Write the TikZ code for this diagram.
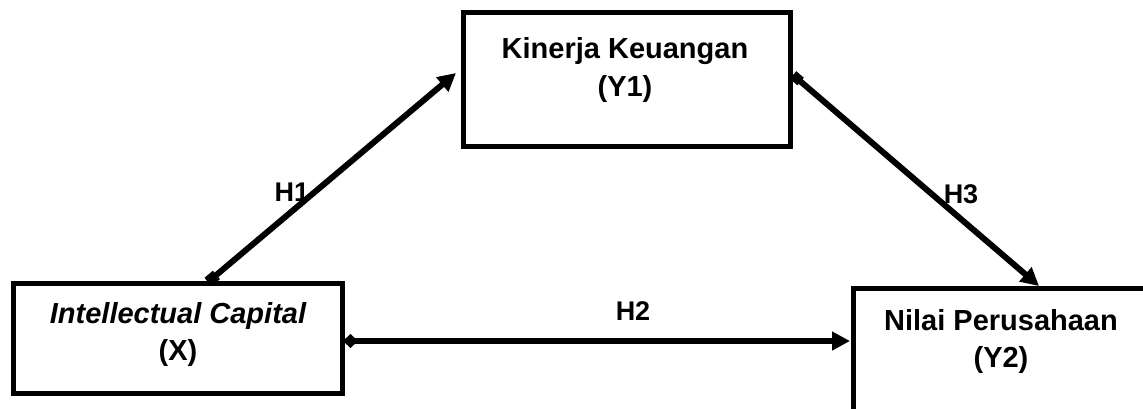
\documentclass[tikz,border=0pt]{standalone}
\usepackage{fontspec}
\setmainfont{Liberation Sans}
\usetikzlibrary{arrows.meta}
\begin{document}
\begin{tikzpicture}[x=1pt,y=-1pt,
  box/.style={draw,line width=5pt,rectangle,inner sep=0pt},
  txt/.style={anchor=base,inner sep=0pt,font=\fontsize{29}{38}\selectfont\bfseries},
  lab/.style={anchor=base,inner sep=0pt,font=\fontsize{27}{30}\selectfont\bfseries},
  conn/.style={line width=6pt},
]
\useasboundingbox (0,0) rectangle (1143,408);
\begin{scope}
\clip (0,0) rectangle (1143,408);
% boxes
\node[box,minimum width=329pt,minimum height=110pt] (X) at (177.5,338) {};
\node[box,minimum width=327pt,minimum height=134pt] (Y1) at (626.5,79) {};
\node[box,minimum width=340pt,minimum height=160pt] (Y2) at (1023,368) {};
\end{scope}
% texts
\node[txt] (Xt1) at (178,323) {\itshape Intellectual Capital};
\node[txt] (Xt2) at (178,360) {(X)};
\node[txt] (Y1t1) at (625,58) {Kinerja Keuangan};
\node[txt] (Y1t2) at (625,96) {(Y1)};
\node[txt] (Y2t1) at (1001,330) {Nilai Perusahaan};
\node[txt] (Y2t2) at (1001,367) {(Y2)};
% connector endpoints
\coordinate (h1s) at (208,282);
\coordinate (h1e) at (456,73);
\coordinate (h3s) at (793,75);
\coordinate (h3e) at (1039,286);
\coordinate (h2s) at (343,341);
\coordinate (h2e) at (850,341);
% connectors
\draw[conn,{Square[length=11pt,width=11pt]}-{Triangle[length=18pt,width=18pt]}] (h1s) -- (h1e);
\draw[conn,{Square[length=10pt,width=10pt]}-{Triangle[length=18pt,width=18pt]}] (h3s) -- (h3e);
\draw[conn,{Diamond[length=15pt,width=14pt]}-{Triangle[length=18pt,width=18pt]}] (h2s) -- (h2e);
% labels
\node[lab] (H1) at (292,201) {H1};
\node[lab] (H3) at (961,203) {H3};
\node[lab] (H2) at (633,320) {H2};
\end{tikzpicture}
\end{document}
